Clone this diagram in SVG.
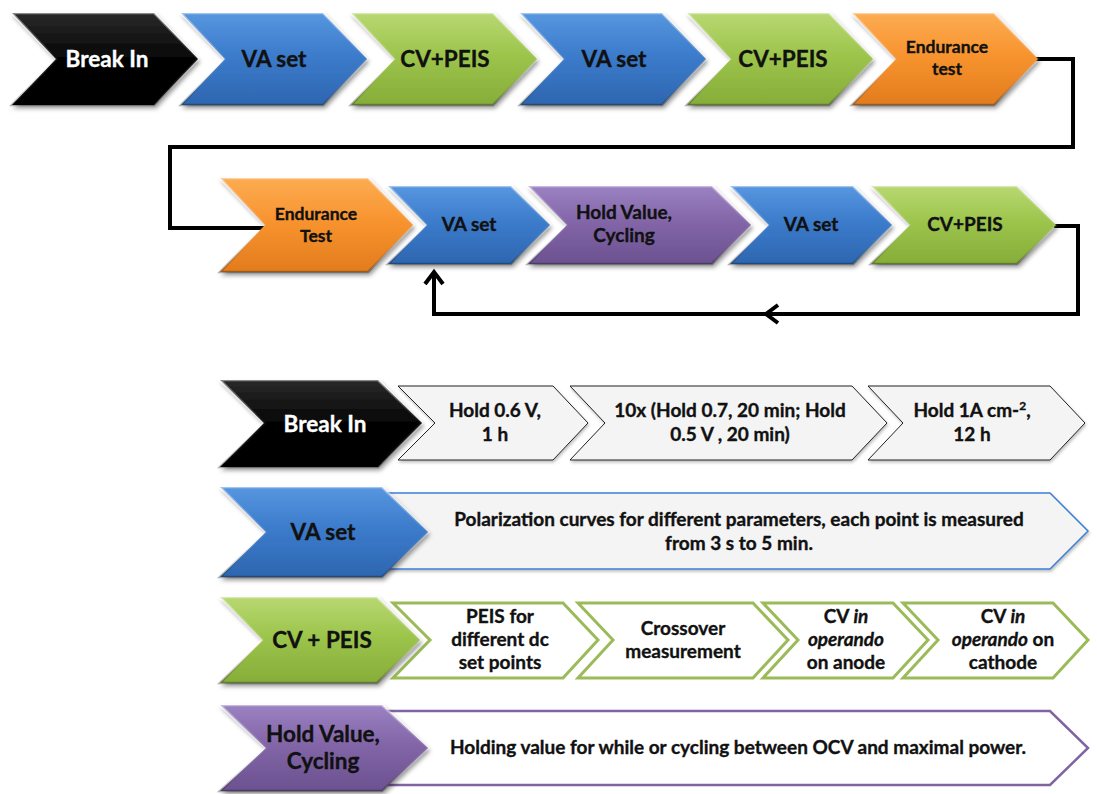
<svg xmlns="http://www.w3.org/2000/svg" width="1097" height="794" viewBox="0 0 1097 794">
<defs>
<linearGradient id="gBlack" x1="0" y1="0" x2="0" y2="1"><stop offset="0" stop-color="#2a2a2a"/><stop offset="0.5" stop-color="#050505"/><stop offset="1" stop-color="#000"/></linearGradient>
<linearGradient id="gBlue" x1="0" y1="0" x2="0" y2="1"><stop offset="0" stop-color="#5796df"/><stop offset="0.45" stop-color="#3c7ccc"/><stop offset="1" stop-color="#2d66b0"/></linearGradient>
<linearGradient id="gGreen" x1="0" y1="0" x2="0" y2="1"><stop offset="0" stop-color="#b8d872"/><stop offset="0.45" stop-color="#9dc54c"/><stop offset="1" stop-color="#85ad38"/></linearGradient>
<linearGradient id="gOrange" x1="0" y1="0" x2="0" y2="1"><stop offset="0" stop-color="#fcac52"/><stop offset="0.45" stop-color="#f8942f"/><stop offset="1" stop-color="#e27c1d"/></linearGradient>
<linearGradient id="gPurple" x1="0" y1="0" x2="0" y2="1"><stop offset="0" stop-color="#9b82c2"/><stop offset="0.45" stop-color="#8366a8"/><stop offset="1" stop-color="#6b5190"/></linearGradient>
<linearGradient id="bevel" x1="0" y1="0" x2="0" y2="1"><stop offset="0" stop-color="#fff" stop-opacity="0.45"/><stop offset="0.5" stop-color="#fff" stop-opacity="0.05"/><stop offset="1" stop-color="#000" stop-opacity="0.3"/></linearGradient>
<filter id="sh" x="-10%" y="-10%" width="125%" height="130%"><feDropShadow dx="2" dy="3" stdDeviation="2" flood-color="#000" flood-opacity="0.4"/></filter>
<filter id="shl" x="-10%" y="-10%" width="125%" height="130%"><feDropShadow dx="1" dy="2" stdDeviation="1.5" flood-color="#000" flood-opacity="0.25"/></filter>
<marker id="arr" markerUnits="userSpaceOnUse" markerWidth="30" markerHeight="30" viewBox="-15 -15 30 30" refX="0" refY="0" orient="auto">
<path d="M-12,-9 L0,0 L-12,9" fill="none" stroke="#000" stroke-width="4" stroke-linejoin="miter"/>
</marker>
<style>
.ch{stroke:url(#bevel);stroke-width:2.5;stroke-linejoin:miter;filter:url(#sh)}
.blk{fill:url(#gBlack)}.blu{fill:url(#gBlue)}.grn{fill:url(#gGreen)}.org{fill:url(#gOrange)}.pur{fill:url(#gPurple)}
text{font-family:Lato,"Liberation Sans",sans-serif;font-weight:bold;text-anchor:middle;fill:#111;stroke:#111;stroke-width:0.35}
.t22{font-size:22.5px}.t19{font-size:19px}.t17{font-size:17.5px}
.tw{fill:#fff;stroke:#fff}
.wb1{fill:#f4f4f4;stroke:#222;stroke-width:1;filter:url(#shl)}
.wb2{fill:#f4f4f4;stroke:#3c7fd6;stroke-width:1.5;filter:url(#shl)}
.wb3{fill:#fff;stroke:#9bbb59;stroke-width:3}
.wb4{fill:#fff;stroke:#8064a2;stroke-width:2.5}
.d{font-size:19px}
.con{fill:none;stroke:#000;stroke-width:4;stroke-linejoin:miter}
</style>
</defs>
<rect width="1097" height="794" fill="#fff"/>

<g id="connectors">
<path class="con" d="M1036,59 H1073 V147 H170 V228 H264"/>
<path class="con" d="M1054,226 H1078 V314 H766" marker-end="url(#arr)"/>
<path class="con" d="M770,314 H434 V272" marker-end="url(#arr)"/>
</g>

<g id="n1"><path class="ch blk" d="M12,13 H154 L198,59 L154,105 H12 L56,59 Z"/><text class="t22 tw" x="107" y="67">Break In</text></g>
<g id="n2"><path class="ch blu" d="M181,13 H323 L367,59 L323,105 H181 L225,59 Z"/><text class="t22" x="274" y="67">VA set</text></g>
<g id="n3"><path class="ch grn" d="M351,13 H493 L537,59 L493,105 H351 L395,59 Z"/><text class="t22" x="445" y="67">CV+PEIS</text></g>
<g id="n4"><path class="ch blu" d="M520,13 H662 L706,59 L662,105 H520 L564,59 Z"/><text class="t22" x="614" y="67">VA set</text></g>
<g id="n5"><path class="ch grn" d="M687,13 H829 L873,59 L829,105 H687 L731,59 Z"/><text class="t22" x="783" y="67">CV+PEIS</text></g>
<g id="n6"><path class="ch org" d="M852,13 H994 L1038,59 L994,105 H852 L896,59 Z"/><text class="t17" x="947" y="53">Endurance</text><text class="t17" x="947" y="75">test</text></g>

<g id="n7"><path class="ch org" d="M220,178 H368 L413,225 L368,272 H220 L265,225 Z"/><text class="t17" x="316" y="220">Endurance</text><text class="t17" x="316" y="242">Test</text></g>
<g id="n8"><path class="ch blu" d="M388,186 H511 L550,225 L511,264 H388 L427,225 Z"/><text class="t19" x="469" y="231">VA set</text></g>
<g id="n9"><path class="ch pur" d="M528,186 H712 L751,225 L712,264 H528 L567,225 Z"/><text class="t19" x="624" y="219">Hold Value,</text><text class="t19" x="624" y="242">Cycling</text></g>
<g id="n10"><path class="ch blu" d="M730,186 H853 L892,225 L853,264 H730 L769,225 Z"/><text class="t19" x="811" y="231">VA set</text></g>
<g id="n11"><path class="ch grn" d="M871,186 H1017 L1056,225 L1017,264 H871 L910,225 Z"/><text class="t19" x="965" y="231">CV+PEIS</text></g>

<g id="b1"><path class="wb1" d="M398,386 H553 L588,423 L553,460 H398 L435,423 Z"/><text class="d" x="495" y="417">Hold 0.6 V,</text><text class="d" x="495" y="441">1 h</text></g>
<g id="b2"><path class="wb1" d="M570,386 H852 L887,423 L852,460 H570 L605,423 Z"/><text class="d" x="730" y="417">10x (Hold 0.7, 20 min; Hold</text><text class="d" x="730" y="441">0.5 V , 20 min)</text></g>
<g id="b3"><path class="wb1" d="M868,386 H1050 L1085,423 L1050,460 H868 L903,423 Z"/><text class="d" x="972" y="417">Hold 1A cm-<tspan dy="-7" font-size="12">2</tspan><tspan dy="7">,</tspan></text><text class="d" x="972" y="441">12 h</text></g>
<g id="L1"><path class="ch blk" d="M220,380 H378 L422,423 L378,467 H220 L264,423 Z"/><text class="t22 tw" x="325" y="432">Break In</text></g>

<g id="b4"><path class="wb2" d="M385,493 H1050 L1088,531 L1050,569 H385 Z"/><text class="d" x="739" y="526">Polarization curves for different parameters, each point is measured</text><text class="d" x="739" y="550">from 3 s to 5 min.</text></g>
<g id="L2"><path class="ch blu" d="M220,487 H382 L428,532 L382,577 H220 L266,532 Z"/><text class="t22" x="323" y="540">VA set</text></g>

<g id="b5"><path class="wb3" d="M393,603 H563 L598,640 L563,678 H393 L430,640 Z"/><text class="d" x="500" y="623">PEIS for</text><text class="d" x="500" y="646">different dc</text><text class="d" x="500" y="669">set points</text></g>
<g id="b6"><path class="wb3" d="M578,603 H753 L788,640 L753,678 H578 L613,640 Z"/><text class="d" x="683" y="635">Crossover</text><text class="d" x="683" y="658">measurement</text></g>
<g id="b7"><path class="wb3" d="M763,603 H893 L928,640 L893,678 H763 L798,640 Z"/><text class="d" x="846" y="623">CV <tspan font-style="italic">in</tspan></text><text class="d" x="846" y="646" font-style="italic">operando</text><text class="d" x="846" y="669">on anode</text></g>
<g id="b8"><path class="wb3" d="M903,603 H1053 L1088,640 L1053,678 H903 L938,640 Z"/><text class="d" x="1003" y="623">CV <tspan font-style="italic">in</tspan></text><text class="d" x="1003" y="646"><tspan font-style="italic">operando</tspan> on</text><text class="d" x="1003" y="669">cathode</text></g>
<g id="L3"><path class="ch grn" d="M220,597 H377 L420,640 L377,683 H220 L263,640 Z"/><text class="t22" x="322" y="648">CV + PEIS</text></g>

<g id="b9"><path class="wb4" d="M380,711 H1050 L1088,748 L1050,785 H380 Z"/><text class="d" x="738" y="754">Holding value for while or cycling between OCV and maximal power.</text></g>
<g id="L4"><path class="ch pur" d="M220,705 H382 L428,748 L382,791 H220 L266,748 Z"/><text class="t22" x="323" y="742">Hold Value,</text><text class="t22" x="323" y="769">Cycling</text></g>
</svg>
